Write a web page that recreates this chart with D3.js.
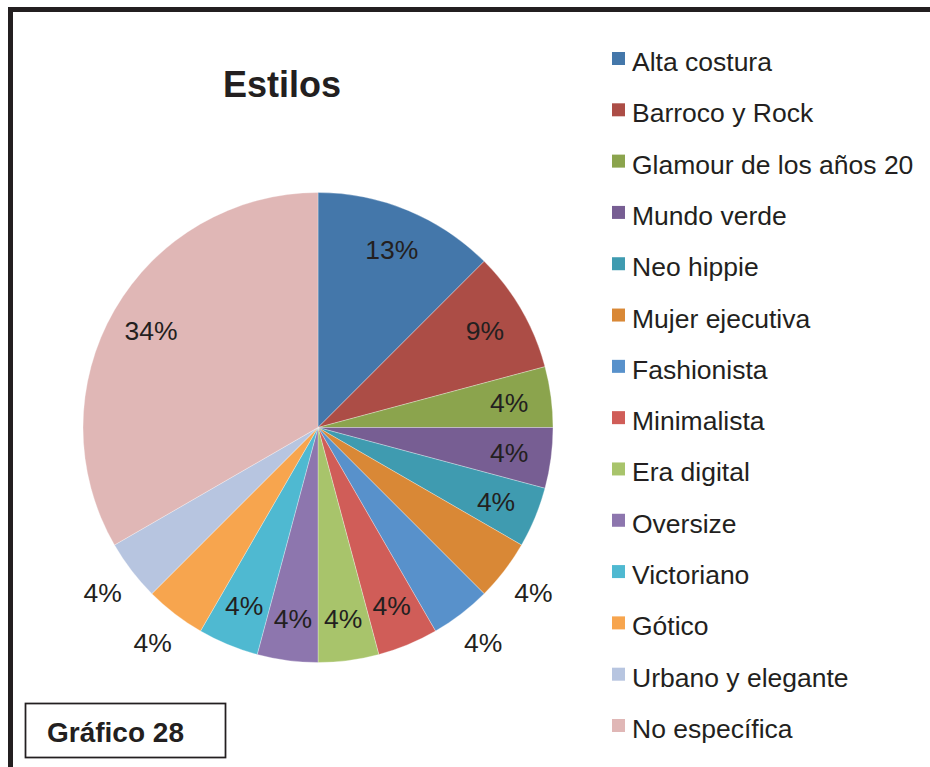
<!DOCTYPE html>
<html>
<head>
<meta charset="utf-8">
<script src="https://cdn.jsdelivr.net/npm/d3@7"></script>
<style>
  body { margin: 0; background: #fff; }
  svg { display: block; font-family: "Liberation Sans", Arial, sans-serif; }
</style>
</head>
<body>
<svg id="chart" width="930" height="767"></svg>
<script>
// Data (slice sizes from angles, labels as printed)
var categories = ['Alta costura', 'Barroco y Rock', 'Glamour de los años 20', 'Mundo verde',
  'Neo hippie', 'Mujer ejecutiva', 'Fashionista', 'Minimalista', 'Era digital', 'Oversize',
  'Victoriano', 'Gótico', 'Urbano y elegante', 'No específica'];
var values = [3, 2, 1, 1, 1, 1, 1, 1, 1, 1, 1, 1, 1, 8];
var percentLabels = ['13%', '9%', '4%', '4%', '4%', '4%', '4%', '4%', '4%', '4%', '4%', '4%', '4%', '34%'];
var outsideLabels = ['Mujer ejecutiva', 'Fashionista', 'Gótico', 'Urbano y elegante'];
var colors = ['#4477aa', '#ac4d46', '#8ba44d', '#775e93', '#3f9bb0', '#d98836', '#5891cb',
  '#d05d58', '#a8c46b', '#8d76ae', '#4fb9d1', '#f7a54e', '#b7c5e0', '#e0b7b6'];

var svg = d3.select('#chart');
var ink = '#231f20';

// outer frame (runs off the right and bottom)
svg.append('rect')
  .attr('x', 10.5).attr('y', 9.5)
  .attr('width', 1000).attr('height', 1000)
  .style('fill', 'none')
  .style('stroke', ink)
  .style('stroke-width', 5);

svg.append('text')
  .attr('x', 282).attr('y', 97)
  .attr('text-anchor', 'middle')
  .style('font-size', '36px')
  .style('font-weight', 'bold')
  .style('fill', ink)
  .text('Estilos');

var data = categories.map(function(c, i) {
  return { name: c, value: values[i], label: percentLabels[i], color: colors[i] };
});

var r = 235;
var pie = d3.pie().sort(null).value(function(d) { return d.value; });
var arc = d3.arc().innerRadius(0).outerRadius(r);
var inLabel = d3.arc().innerRadius(r * 0.82).outerRadius(r * 0.82);
var outLabel = d3.arc().innerRadius(r * 1.155).outerRadius(r * 1.155);

var g = svg.append('g').attr('transform', 'translate(318,427.5)');

var slices = pie(data);

g.selectAll('path').data(slices)
  .enter().append('path')
  .attr('d', arc)
  .style('fill', function(d) { return d.data.color; })
  .style('stroke', '#fff')
  .style('stroke-width', 0.5)
  .style('stroke-opacity', 0.6);

g.selectAll('text.pct').data(slices)
  .enter().append('text')
  .attr('class', 'pct')
  .attr('transform', function(d) {
    var a = outsideLabels.indexOf(d.data.name) >= 0 ? outLabel : inLabel;
    var p = a.centroid(d);
    return 'translate(' + p[0] + ',' + p[1] + ')';
  })
  .attr('text-anchor', 'middle')
  .attr('dy', '0.35em')
  .style('font-size', '26.5px')
  .style('fill', ink)
  .text(function(d) { return d.data.label; });

// legend
var ly = d3.scalePoint().domain(categories).range([71, 738]);

var legend = svg.selectAll('g.legend').data(data)
  .enter().append('g')
  .attr('class', 'legend')
  .attr('transform', function(d) { return 'translate(0,' + ly(d.name) + ')'; });

legend.append('rect')
  .attr('x', 612).attr('y', -19)
  .attr('width', 13).attr('height', 13)
  .style('fill', function(d) { return d.color; });

legend.append('text')
  .attr('x', 632).attr('y', 0)
  .style('font-size', '26.5px')
  .style('fill', ink)
  .text(function(d) { return d.name; });

// caption box
svg.append('rect')
  .attr('x', 25.5).attr('y', 703.5)
  .attr('width', 200).attr('height', 54)
  .style('fill', '#fff')
  .style('stroke', ink)
  .style('stroke-width', 1.75);

svg.append('text')
  .attr('x', 47).attr('y', 742)
  .style('font-size', '28px')
  .style('font-weight', 'bold')
  .style('fill', ink)
  .text('Gráfico 28');
</script>
</body>
</html>
